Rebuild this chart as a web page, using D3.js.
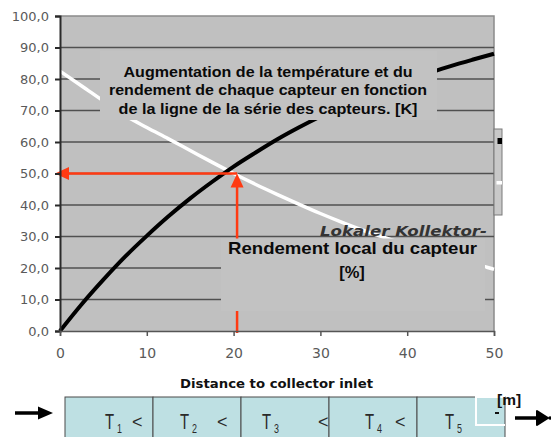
<!DOCTYPE html>
<html><head><meta charset="utf-8">
<script src="https://cdn.jsdelivr.net/npm/d3@7/dist/d3.min.js"></script>
<style>
html,body{margin:0;padding:0;background:#fff;}
svg{display:block;}
</style></head>
<body>
<svg id="chart" width="551" height="437"></svg>
<script>
// ---- data ----
const xTicks = [0, 10, 20, 30, 40, 50];
const yTicks = [0, 10, 20, 30, 40, 50, 60, 70, 80, 90, 100];
const distance = [0, 2.5, 5, 7.5, 10, 12.5, 15, 17.5, 20, 22.5, 25, 27.5, 30, 32.5, 35, 37.5, 40, 42.5, 45, 47.5, 50];
const temperatureRise = [0, 8.5, 16.3, 23.6, 30.2, 36.4, 42.1, 47.3, 52.2, 56.6, 60.8, 64.6, 68.1, 71.3, 74.3, 77.1, 79.6, 81.9, 84.1, 86.1, 88.0];
const efficiency = [82.5, 77.8, 73.0, 68.4, 64.6, 61.0, 57.3, 53.6, 50.0, 46.6, 43.4, 40.3, 37.3, 34.5, 31.9, 29.6, 27.4, 25.4, 23.4, 21.5, 19.6];
const readingPoint = [20.4, 50];
const titleLines = ["Augmentation de la température et du", "rendement de chaque capteur en fonction", "de la ligne de la série des capteurs.  [K]"];
const effLabelLines = ["Rendement local du capteur", "[%]"];
const germanLabel = "Lokaler Kollektor-";
const xAxisTitle = "Distance to collector inlet";
const unitLabel = "[m]";
const sensorNames = ["T", "T", "T", "T", "T"];
const sensorSubs = ["1", "2", "3", "4", "5"];
const sensorSeps = ["<", "<", "<", "<", ""];

// ---- layout ----
const svg = d3.select("#chart");
const x = d3.scaleLinear().domain([0, 50]).range([60, 494]);
const y = d3.scaleLinear().domain([0, 100]).range([331, 16]);
const fmt = d => d3.format(".1f")(d).replace(".", ",");

// plot background
svg.append("rect").attr("x", x(0)).attr("y", y(100)).attr("width", x(50) - x(0)).attr("height", y(0) - y(100))
  .attr("fill", "#c0c0c0");
// top & right border
svg.append("path").attr("d", `M${x(0)},${y(100)}H${x(50)}V${y(0)}`).attr("fill", "none").attr("stroke", "#8a8a8a").attr("stroke-width", 1.5);

// gridlines
svg.append("g").selectAll("line").data(yTicks.filter(d => d > 0 && d < 100)).join("line")
  .attr("x1", x(0)).attr("x2", x(50)).attr("y1", d => y(d)).attr("y2", d => y(d))
  .attr("stroke", "#505050").attr("stroke-width", 1.5);

// curves
const line = d3.line().curve(d3.curveMonotoneX);
svg.append("path").attr("d", line(distance.map((d, i) => [x(d), y(efficiency[i])])))
  .attr("fill", "none").attr("stroke", "#ffffff").attr("stroke-width", 3.5);
svg.append("path").attr("d", line(distance.map((d, i) => [x(d), y(temperatureRise[i])])))
  .attr("fill", "none").attr("stroke", "#000000").attr("stroke-width", 4);

// red reading arrows
const red = "#ff3a12";
const px = x(readingPoint[0]), py = y(readingPoint[1]);
svg.append("line").attr("x1", px).attr("x2", x(0) - 5 + 13).attr("y1", py).attr("y2", py)
  .attr("stroke", red).attr("stroke-width", 2.5);
svg.append("path").attr("d", `M${x(0) - 5},${py}L${x(0) + 9},${py - 6.5}L${x(0) + 9},${py + 6.5}Z`).attr("fill", red);
svg.append("line").attr("x1", px).attr("x2", px).attr("y1", y(0) + 2).attr("y2", py + 13)
  .attr("stroke", red).attr("stroke-width", 2.5);
svg.append("path").attr("d", `M${px},${py}L${px - 6.5},${py + 14}L${px + 6.5},${py + 14}Z`).attr("fill", red);

// covering text boxes
svg.append("rect").attr("x", 100).attr("y", 51).attr("width", 337).attr("height", 69).attr("fill", "#c2c2c2");
svg.append("rect").attr("x", 221).attr("y", 238.5).attr("width", 264).attr("height", 72.5).attr("fill", "#c2c2c2");

// axes
const yAxis = svg.append("g").attr("transform", `translate(${x(0)},0)`)
  .call(d3.axisLeft(y).tickValues(yTicks).tickFormat(fmt).tickSize(5).tickPadding(6));
yAxis.select(".domain").attr("stroke", "#2a2a2a").attr("stroke-width", 2);
yAxis.selectAll(".tick line").attr("stroke", "#2a2a2a").attr("stroke-width", 2);
yAxis.selectAll("text").attr("font-family", "DejaVu Sans").attr("font-size", 13).attr("fill", "#5a5a5a");

const xAxis = svg.append("g").attr("transform", `translate(0,${y(0)})`)
  .call(d3.axisBottom(x).tickValues(xTicks).tickFormat(d3.format("d")).tickSize(5).tickPadding(12));
xAxis.select(".domain").attr("stroke", "#555").attr("stroke-width", 1.5);
xAxis.selectAll(".tick line").attr("stroke", "#555").attr("stroke-width", 1.5);
xAxis.selectAll("text").attr("font-family", "DejaVu Sans").attr("font-size", 14).attr("fill", "#5a5a5a");

// right legend fragment
svg.append("rect").attr("x", 494).attr("y", 129).attr("width", 8).attr("height", 86).attr("fill", "#c8c8c8").attr("stroke", "#7a7a7a");
svg.append("rect").attr("x", 497.5).attr("y", 138).attr("width", 4.5).attr("height", 6).attr("fill", "#000");
svg.append("rect").attr("x", 496.5).attr("y", 181).attr("width", 5.5).attr("height", 3.5).attr("fill", "#fff");

// title text
const titleLens = [289, 318, 299];
svg.append("g").selectAll("text").data(titleLines).join("text")
  .attr("x", 268).attr("y", (d, i) => 76.5 + i * 18.8)
  .attr("text-anchor", "middle").attr("font-family", "Liberation Sans, Arial").attr("font-weight", "bold")
  .attr("font-size", 14.2).attr("fill", "#0a0a0a")
  .attr("textLength", (d, i) => titleLens[i]).attr("lengthAdjust", "spacingAndGlyphs")
  .text(d => d);

// German label
svg.append("text").attr("x", 320).attr("y", 236).attr("font-family", "DejaVu Sans").attr("font-weight", "bold")
  .attr("font-style", "italic").attr("font-size", 14.5).attr("fill", "#333")
  .attr("textLength", 167).attr("lengthAdjust", "spacingAndGlyphs").text(germanLabel);

// efficiency label
svg.append("text").attr("x", 352.5).attr("y", 254).attr("text-anchor", "middle")
  .attr("font-family", "Liberation Sans, Arial").attr("font-weight", "bold").attr("font-size", 16.5).attr("fill", "#0a0a0a")
  .attr("textLength", 249).attr("lengthAdjust", "spacingAndGlyphs").text(effLabelLines[0]);
svg.append("text").attr("x", 352).attr("y", 278).attr("text-anchor", "middle")
  .attr("font-family", "Liberation Sans, Arial").attr("font-weight", "bold").attr("font-size", 16.5).attr("fill", "#0a0a0a")
  .text(effLabelLines[1]);

// x axis title
svg.append("text").attr("x", 180).attr("y", 388).attr("font-family", "DejaVu Sans").attr("font-weight", "bold")
  .attr("font-size", 11.5).attr("fill", "#111").attr("textLength", 193).attr("lengthAdjust", "spacingAndGlyphs")
  .text(xAxisTitle);

// collector strip
const cellX = d3.scaleLinear().domain([0, 5]).range([65, 505]);
const strip = svg.append("g");
strip.selectAll("rect").data(sensorNames).join("rect")
  .attr("x", (d, i) => cellX(i)).attr("y", 397).attr("width", cellX(1) - cellX(0)).attr("height", 45)
  .attr("fill", "#bee0e3").attr("stroke", "#4a4a4a").attr("stroke-width", 1);
const tOff = [40, 27, 21, 36, 28];
const sOff = [67, 64, 77, 66, 0];
sensorNames.forEach((t, i) => {
  const g = strip.append("g").attr("transform", `translate(${cellX(i) + tOff[i]},429) scale(0.85,1.25)`);
  g.append("text").attr("font-family", "Liberation Sans, Arial").attr("font-size", 17.5).attr("fill", "#2a2a2a").text(t);
  g.append("text").attr("x", 14).attr("y", 3).attr("font-family", "Liberation Sans, Arial").attr("font-size", 10.5).attr("fill", "#2a2a2a").text(sensorSubs[i]);
  if (sensorSeps[i]) {
    strip.append("text").attr("x", cellX(i) + sOff[i]).attr("y", 428).attr("font-family", "Liberation Sans, Arial")
      .attr("font-size", 18).attr("fill", "#2a2a2a").text(sensorSeps[i]);
  }
});
// white outline square at the outlet
svg.append("path").attr("d", "M505,397H476V425H505").attr("fill", "none").attr("stroke", "#fff").attr("stroke-width", 2);
svg.append("rect").attr("x", 495).attr("y", 412).attr("width", 4).attr("height", 2).attr("fill", "#111");
svg.append("text").attr("x", 497).attr("y", 405).attr("font-family", "Liberation Sans, Arial").attr("font-weight", "bold")
  .attr("font-size", 15.5).attr("fill", "#111").text(unitLabel);

// flow arrows
svg.append("line").attr("x1", 15).attr("x2", 40).attr("y1", 413).attr("y2", 413).attr("stroke", "#000").attr("stroke-width", 3.5);
svg.append("path").attr("d", "M53,413L38,406.5L38,419.5Z").attr("fill", "#000");
svg.append("line").attr("x1", 515).attr("x2", 538).attr("y1", 418).attr("y2", 418).attr("stroke", "#000").attr("stroke-width", 3.5);
svg.append("path").attr("d", "M548,418L537,411L537,425Z").attr("fill", "#000").attr("stroke", "#000").attr("stroke-linejoin", "round").attr("stroke-width", 2);
svg.append("circle").attr("cx", 550).attr("cy", 418).attr("r", 1.8).attr("fill", "#000");
</script>
</body></html>
